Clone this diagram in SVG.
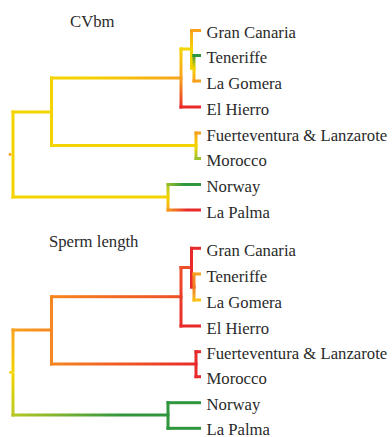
<svg xmlns="http://www.w3.org/2000/svg" width="392" height="437" viewBox="0 0 392 437">
<style>
.t{font-family:"Liberation Serif","Times New Roman",Tinos,"DejaVu Serif",serif;font-size:16.7px;fill:#2a2a2a}
.Y{fill:#f4d400}.O{fill:#f7a21f}.R{fill:#e82a2a}.G{fill:#2f963e}.YG{fill:#9cc22e}.O2{fill:#f6861f}.RO{fill:#ee4f28}.LY{fill:#fbc01a}
</style>
<defs>
<linearGradient id="hYO"><stop offset="0" stop-color="#f4d400"/><stop offset="0.35" stop-color="#f4d000"/><stop offset="1" stop-color="#f7a21f"/></linearGradient>
<linearGradient id="hYGG"><stop offset="0" stop-color="#9cc22e"/><stop offset="0.5" stop-color="#2f963e"/><stop offset="1" stop-color="#2f963e"/></linearGradient>
<linearGradient id="hOR"><stop offset="0" stop-color="#f7a21f"/><stop offset="0.6" stop-color="#e82a2a"/><stop offset="1" stop-color="#e82a2a"/></linearGradient>
<linearGradient id="hOO2"><stop offset="0" stop-color="#f7a21f"/><stop offset="1" stop-color="#f6861f"/></linearGradient>
<linearGradient id="hO2RO"><stop offset="0" stop-color="#f6861f"/><stop offset="1" stop-color="#ee4f28"/></linearGradient>
<linearGradient id="hO2R"><stop offset="0" stop-color="#f6861f"/><stop offset="1" stop-color="#e82a2a"/></linearGradient>
<linearGradient id="hYGG2"><stop offset="0" stop-color="#b8c824"/><stop offset="0.7" stop-color="#2f963e"/><stop offset="1" stop-color="#2f963e"/></linearGradient>
<linearGradient id="vYO" x2="0" y2="1"><stop offset="0" stop-color="#f4d400"/><stop offset="1" stop-color="#f7a21f"/></linearGradient>
<linearGradient id="vOY" x2="0" y2="1"><stop offset="0" stop-color="#f7a21f"/><stop offset="1" stop-color="#f4d400"/></linearGradient>
<linearGradient id="vOR" x2="0" y2="1"><stop offset="0" stop-color="#f7a21f"/><stop offset="1" stop-color="#e82a2a"/></linearGradient>
<linearGradient id="vGY" x2="0" y2="1"><stop offset="0" stop-color="#2f963e"/><stop offset="1" stop-color="#f4d400"/></linearGradient>
<linearGradient id="vYYG" x2="0" y2="1"><stop offset="0" stop-color="#f4d400"/><stop offset="1" stop-color="#9cc22e"/></linearGradient>
<linearGradient id="vYGY" x2="0" y2="1"><stop offset="0" stop-color="#9cc22e"/><stop offset="1" stop-color="#f4d400"/></linearGradient>
<linearGradient id="vROR" x2="0" y2="1"><stop offset="0" stop-color="#ee4f28"/><stop offset="1" stop-color="#e82a2a"/></linearGradient>
<linearGradient id="vOOR" x2="0" y2="1"><stop offset="0" stop-color="#f7941f"/><stop offset="1" stop-color="#f07a22"/></linearGradient>
<linearGradient id="vORLY" x2="0" y2="1"><stop offset="0" stop-color="#f07a22"/><stop offset="1" stop-color="#fbc01a"/></linearGradient>
<linearGradient id="vYYG2" x2="0" y2="1"><stop offset="0" stop-color="#f4d400"/><stop offset="1" stop-color="#b8c824"/></linearGradient>
</defs>

<g id="connectors">
<g id="tree-cvbm">
<rect class="Y" x="11.5" y="110.5" width="3" height="88"/>
<rect class="Y" x="11.5" y="110.5" width="41.5" height="3"/>
<rect class="Y" x="50" y="76.5" width="3" height="70.5"/>
<rect fill="url(#hYO)" x="50" y="76.5" width="132.5" height="3"/>
<rect fill="url(#vYO)" x="179.5" y="47.5" width="3" height="30.5"/>
<rect fill="url(#vOR)" x="179.5" y="78" width="3" height="30.5"/>
<rect class="R" x="179.5" y="105.5" width="21.5" height="3"/>
<rect class="Y" x="179.5" y="47.5" width="13.5" height="3"/>
<rect fill="url(#vOY)" x="190" y="29" width="3" height="20"/>
<rect class="O" x="190" y="29" width="11" height="3"/>
<rect class="Y" x="190" y="49" width="3" height="20.5"/>
<rect class="Y" x="190" y="66.5" width="5.5" height="3"/>
<rect fill="url(#vGY)" x="192.5" y="54" width="3" height="14"/>
<rect class="G" x="192.5" y="54" width="8.5" height="3"/>
<rect fill="url(#vYO)" x="192.5" y="68" width="3" height="14.5"/>
<rect class="O" x="192.5" y="79.5" width="8.5" height="3"/>
<rect class="Y" x="50" y="144" width="147.5" height="3"/>
<rect fill="url(#vOY)" x="194.5" y="131.5" width="3" height="14"/>
<rect class="O" x="194.5" y="131.5" width="6.5" height="3"/>
<rect fill="url(#vYYG)" x="194.5" y="145.5" width="3" height="14.5"/>
<rect class="YG" x="194.5" y="157" width="6.5" height="3"/>
<rect class="Y" x="11.5" y="195.5" width="158" height="3"/>
<rect fill="url(#vYGY)" x="166.5" y="183" width="3" height="14"/>
<rect fill="url(#hYGG)" x="166.5" y="183" width="34.5" height="3"/>
<rect fill="url(#vYO)" x="166.5" y="197" width="3" height="14.5"/>
<rect fill="url(#hOR)" x="166.5" y="208.5" width="34.5" height="3"/>
<circle class="O" cx="10" cy="154.5" r="1.4"/>
</g>
<g id="tree-sperm">
<rect fill="url(#vOY)" x="11.5" y="328.5" width="3" height="44"/>
<rect fill="url(#vYYG2)" x="11.5" y="372.5" width="3" height="44"/>
<rect fill="url(#hOO2)" x="11.5" y="328.5" width="41.5" height="3"/>
<rect class="O2" x="50" y="295.2" width="3" height="70.3"/>
<rect fill="url(#hO2RO)" x="50" y="295.2" width="132.5" height="3"/>
<rect fill="url(#vROR)" x="179.5" y="266" width="3" height="61.5"/>
<rect class="R" x="179.5" y="324.5" width="21.5" height="3"/>
<rect class="RO" x="179.5" y="266" width="13.5" height="3"/>
<rect class="R" x="190" y="246.8" width="3" height="41.7"/>
<rect class="R" x="190" y="246.8" width="11" height="3"/>
<rect class="R" x="190" y="285.5" width="5.5" height="3"/>
<rect fill="url(#vOOR)" x="192.5" y="272.5" width="3" height="14.5"/>
<rect class="O" x="192.5" y="272.5" width="8.5" height="3"/>
<rect fill="url(#vORLY)" x="192.5" y="287" width="3" height="14.5"/>
<rect class="LY" x="192.5" y="298.5" width="8.5" height="3"/>
<rect fill="url(#hO2R)" x="50" y="362.5" width="147.5" height="3"/>
<rect class="R" x="194.5" y="350.2" width="3" height="28"/>
<rect class="R" x="194.5" y="350.2" width="6.5" height="3"/>
<rect class="R" x="194.5" y="375.2" width="6.5" height="3"/>
<rect fill="url(#hYGG2)" x="11.5" y="413.5" width="158" height="3"/>
<rect class="G" x="166.5" y="401.2" width="3" height="28.6"/>
<rect class="G" x="166.5" y="401.2" width="34.5" height="3"/>
<rect class="G" x="166.5" y="426.8" width="34.5" height="3"/>
<circle class="Y" cx="10.5" cy="372.5" r="1.4"/>
</g>
</g>

<g id="titles" font-family="'Liberation Serif', 'Times New Roman', serif">
<text class="t" id="title-cvbm" x="70" y="27">CVbm</text>
<text class="t" id="title-sperm" x="49" y="246.5">Sperm length</text>
</g>

<g id="labels-cvbm" font-family="'Liberation Serif', 'Times New Roman', serif">
<g id="n-gc1"><text class="t" x="206.5" y="38">Gran Canaria</text></g>
<g id="n-te1"><text class="t" x="206.5" y="63">Teneriffe</text></g>
<g id="n-lg1"><text class="t" x="206.5" y="88.5">La Gomera</text></g>
<g id="n-eh1"><text class="t" x="206.5" y="114.5">El Hierro</text></g>
<g id="n-fl1"><text class="t" x="206.5" y="140.5">Fuerteventura &amp; Lanzarote</text></g>
<g id="n-mo1"><text class="t" x="206.5" y="166">Morocco</text></g>
<g id="n-no1"><text class="t" x="206.5" y="192">Norway</text></g>
<g id="n-lp1"><text class="t" x="206.5" y="217.5">La Palma</text></g>
</g>
<g id="labels-sperm" font-family="'Liberation Serif', 'Times New Roman', serif">
<g id="n-gc2"><text class="t" x="206.5" y="256">Gran Canaria</text></g>
<g id="n-te2"><text class="t" x="206.5" y="281.5">Teneriffe</text></g>
<g id="n-lg2"><text class="t" x="206.5" y="307.5">La Gomera</text></g>
<g id="n-eh2"><text class="t" x="206.5" y="333.5">El Hierro</text></g>
<g id="n-fl2"><text class="t" x="206.5" y="359">Fuerteventura &amp; Lanzarote</text></g>
<g id="n-mo2"><text class="t" x="206.5" y="384">Morocco</text></g>
<g id="n-no2"><text class="t" x="206.5" y="410">Norway</text></g>
<g id="n-lp2"><text class="t" x="206.5" y="434.5">La Palma</text></g>
</g>
</svg>
